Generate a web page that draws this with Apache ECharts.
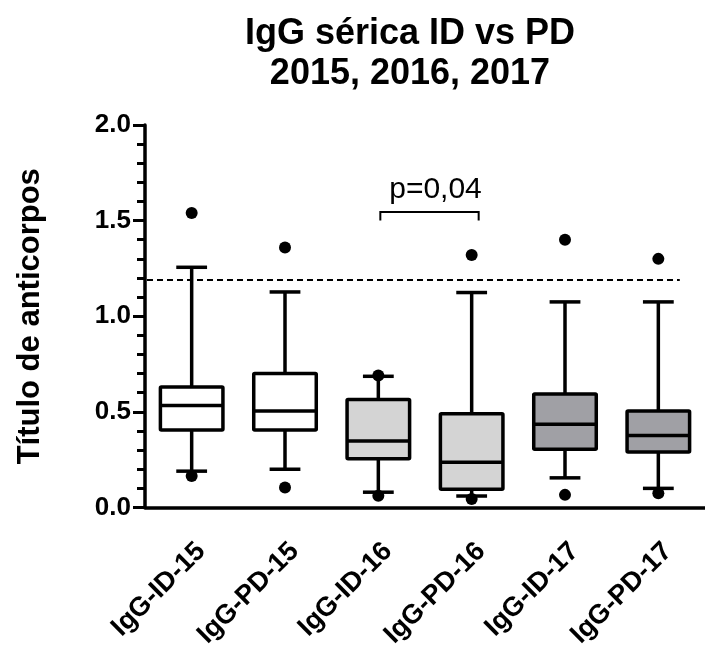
<!DOCTYPE html>
<html>
<head>
<meta charset="utf-8">
<script src="https://cdn.jsdelivr.net/npm/echarts@6/dist/echarts.min.js"></script>
<style>html,body{margin:0;padding:0;background:#fff;}#c{width:705px;height:651px;}</style>
</head>
<body>
<div id="c"></div>
<script>
var categories = ['IgG-ID-15', 'IgG-PD-15', 'IgG-ID-16', 'IgG-PD-16', 'IgG-ID-17', 'IgG-PD-17'];
var whiskerLow  = [0.19, 0.20, 0.08, 0.06, 0.155, 0.10];
var q1          = [0.405, 0.405, 0.255, 0.095, 0.305, 0.29];
var median      = [0.533, 0.505, 0.348, 0.237, 0.435, 0.376];
var q3          = [0.63, 0.70, 0.565, 0.49, 0.594, 0.504];
var whiskerHigh = [1.256, 1.127, 0.686, 1.124, 1.075, 1.075];
var outliersLow  = [0.165, 0.105, 0.062, 0.045, 0.066, 0.074];
var outliersHigh = [1.54, 1.36, 0.69, 1.32, 1.40, 1.30];
var referenceLine = 1.19;
var bracketFrom = 2, bracketTo = 3, bracketTop = 1.545, bracketEnd = 1.50;
var bracketLabel = 'p=0,04';
var yTicks = [0, 0.5, 1.0, 1.5, 2.0];
var titleText = 'IgG sérica ID vs PD\n2015, 2016, 2017';
var yName = 'Título de anticorpos';

var boxFill = ['#FFFFFF', '#FFFFFF', '#D4D4D4', '#D4D4D4', '#A0A0A5', '#A0A0A5'];
var FONT = '"Liberation Sans", Arial, Helvetica, sans-serif';

var boxData = categories.map(function (c, i) {
  return [i, whiskerLow[i], q1[i], median[i], q3[i], whiskerHigh[i]];
});
var outlierData = [];
categories.forEach(function (c, i) {
  outlierData.push([i, outliersLow[i]]);
  outlierData.push([i, outliersHigh[i]]);
});

var chart = echarts.init(document.getElementById('c'));
chart.setOption({
  animation: false,
  backgroundColor: '#fff',
  title: {
    text: titleText,
    left: 405,
    top: 9,
    textAlign: 'center',
    textStyle: { fontFamily: FONT, fontWeight: 'bold', fontSize: 36, lineHeight: 40, color: '#000' }
  },
  grid: { left: 145, right: -12, top: 125, bottom: 140, containLabel: false },
  xAxis: {
    type: 'category',
    data: categories,
    boundaryGap: true,
    axisLine: { lineStyle: { color: '#000', width: 3.5 } },
    axisTick: { alignWithLabel: true, length: 10, lineStyle: { color: '#000', width: 3.5 } },
    axisLabel: { rotate: 45, margin: 30, verticalAlign: 'top', align: 'right', color: '#000',
      fontFamily: FONT, fontWeight: 'bold', fontSize: 27 },
    splitLine: { show: false }
  },
  yAxis: {
    type: 'value',
    min: 0, max: 2, interval: 0.5,
    name: yName,
    nameLocation: 'middle',
    nameGap: 99,
    nameTextStyle: { fontFamily: FONT, fontWeight: 'bold', fontSize: 31, color: '#000' },
    axisLine: { show: true, lineStyle: { color: '#000', width: 3.5 } },
    axisTick: { show: true, length: 12, lineStyle: { color: '#000', width: 3 } },
    minorTick: { show: true, splitNumber: 5, length: 8, lineStyle: { color: '#000', width: 3 } },
    axisLabel: {
      margin: 14, color: '#000', fontFamily: FONT, fontWeight: 'bold', fontSize: 26,
      formatter: function (v) { return yTicks.indexOf(v) >= 0 ? v.toFixed(1) : ''; }
    },
    splitLine: { show: false }
  },
  series: [
    {
      type: 'custom',
      name: 'ref',
      data: [[referenceLine]],
      z: 1,
      renderItem: function (params, api) {
        var y = api.coord([0, api.value(0)])[1];
        var band = api.size([1, 0])[0];
        var x0 = params.coordSys.x + 2;
        var x1 = api.coord([categories.length - 1, 0])[0] + band * 0.23;
        return { type: 'line', shape: { x1: x0, y1: y, x2: x1, y2: y },
          style: { stroke: '#000', lineWidth: 2, lineDash: [6, 4] } };
      }
    },
    {
      type: 'custom',
      name: 'boxes',
      data: boxData,
      z: 2,
      renderItem: function (params, api) {
        var i = api.value(0);
        var band = api.size([1, 0])[0];
        var bw = band * 0.67, cw = band * 0.33;
        var cx = api.coord([i, 0])[0];
        var yLo = api.coord([i, api.value(1)])[1];
        var yQ1 = api.coord([i, api.value(2)])[1];
        var yMed = api.coord([i, api.value(3)])[1];
        var yQ3 = api.coord([i, api.value(4)])[1];
        var yHi = api.coord([i, api.value(5)])[1];
        var ls = { stroke: '#000', lineWidth: 3.5 };
        return {
          type: 'group',
          children: [
            { type: 'line', shape: { x1: cx, y1: yHi, x2: cx, y2: yQ3 }, style: ls },
            { type: 'line', shape: { x1: cx, y1: yQ1, x2: cx, y2: yLo }, style: ls },
            { type: 'line', shape: { x1: cx - cw / 2, y1: yHi, x2: cx + cw / 2, y2: yHi }, style: ls },
            { type: 'line', shape: { x1: cx - cw / 2, y1: yLo, x2: cx + cw / 2, y2: yLo }, style: ls },
            { type: 'rect', shape: { x: cx - bw / 2, y: yQ3, width: bw, height: yQ1 - yQ3, r: 1 },
              style: { fill: boxFill[i], stroke: '#000', lineWidth: 3.5 } },
            { type: 'line', shape: { x1: cx - bw / 2, y1: yMed, x2: cx + bw / 2, y2: yMed }, style: ls }
          ]
        };
      }
    },
    {
      type: 'scatter',
      name: 'outliers',
      data: outlierData,
      symbol: 'circle',
      symbolSize: 12,
      itemStyle: { color: '#000', opacity: 1 },
      z: 5
    },
    {
      type: 'custom',
      name: 'bracket',
      data: [[bracketFrom, bracketTo, bracketTop, bracketEnd]],
      z: 3,
      renderItem: function (params, api) {
        var xa = api.coord([api.value(0), 0])[0] + 2;
        var xb = api.coord([api.value(1), 0])[0] + 7;
        var yt = api.coord([0, api.value(2)])[1];
        var ye = api.coord([0, api.value(3)])[1];
        return {
          type: 'group',
          children: [
            { type: 'polyline', shape: { points: [[xa, ye], [xa, yt], [xb, yt], [xb, ye]] },
              style: { stroke: '#000', lineWidth: 2, fill: null } },
            { type: 'text', x: (xa + xb) / 2 + 6, y: yt - 22,
              style: { text: bracketLabel, textAlign: 'center', textVerticalAlign: 'middle',
                font: '30px ' + FONT, fill: '#000' } }
          ]
        };
      }
    }
  ]
});
</script>
</body>
</html>
